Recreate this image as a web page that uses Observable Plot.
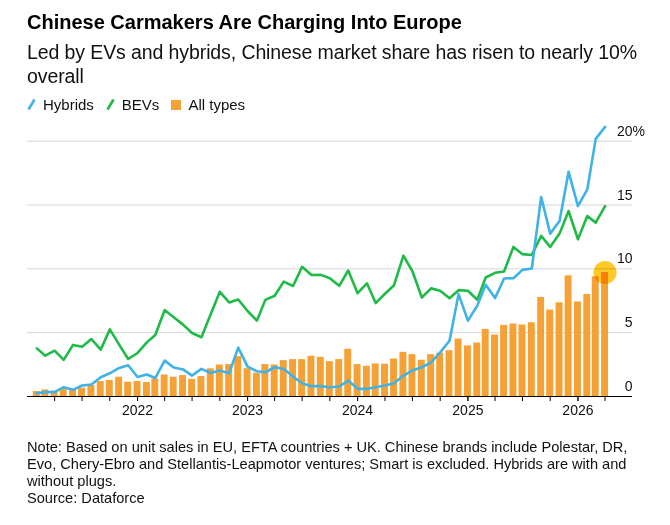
<!DOCTYPE html>
<html><head><meta charset="utf-8">
<script src="https://cdn.jsdelivr.net/npm/d3@7"></script>
<script src="https://cdn.jsdelivr.net/npm/@observablehq/plot@0.6"></script>
<style>
html,body{margin:0;padding:0;background:#fff;}
body{font-family:"Liberation Sans",Arial,sans-serif;color:#111;}
#wrap{width:670px;height:525px;position:relative;overflow:hidden;}
.title{position:absolute;left:27px;top:11px;font-weight:bold;font-size:20px;color:#000;letter-spacing:0px;white-space:nowrap;}
.subtitle{position:absolute;left:27px;top:40px;font-size:19.5px;line-height:24px;white-space:nowrap;letter-spacing:-0.1px;}
.legend{position:absolute;left:27px;top:96px;font-size:15px;display:flex;align-items:center;white-space:nowrap;}
.legend .item{display:flex;align-items:center;margin-right:12px;}
.legend svg{margin-right:7px;}
#chart{position:absolute;left:0;top:115px;}
.note{position:absolute;left:27px;top:439px;font-size:14.6px;line-height:17px;white-space:nowrap;letter-spacing:0px;}
</style>
</head><body>
<div id="wrap">
<div class="title">Chinese Carmakers Are Charging Into Europe</div>
<div class="subtitle">Led by EVs and hybrids, Chinese market share has risen to nearly 10%<br>overall</div>
<div class="legend">
<span class="item"><svg width="9" height="13"><line x1="1.5" y1="11.5" x2="7.5" y2="1.5" stroke="#3fb3e6" stroke-width="2.6"/></svg>Hybrids</span>
<span class="item"><svg width="9" height="13"><line x1="1.5" y1="11.5" x2="7.5" y2="1.5" stroke="#1fba47" stroke-width="2.6"/></svg>BEVs</span>
<span class="item"><svg width="10" height="10"><rect width="10" height="10" fill="#f6a135"/></svg>All types</span>
</div>
<div id="chart"></div>
<div class="note">Note: Based on unit sales in EU, EFTA countries + UK. Chinese brands include Polestar, DR,<br>Evo, Chery-Ebro and Stellantis-Leapmotor ventures; Smart is excluded. Hybrids are with and<br>without plugs.<br>Source: Dataforce</div>
</div>
<script>
// Monthly data, Feb 2021 – Apr 2026 (market share, %)
const bevs = [
  3.77, 3.2, 3.6, 2.87, 4.04, 3.9, 4.5, 3.67, 5.26, 4.06, 2.94,
  3.41, 4.24, 4.82, 6.77, 6.2, 5.63, 4.97, 4.64, 6.46, 8.2, 7.37, 7.6,
  6.7, 5.94, 7.57, 7.89, 9.0, 8.66, 10.16, 9.52, 9.53, 9.27, 8.67, 9.87,
  8.09, 8.87, 7.32, 8.05, 8.72, 11.03, 9.81, 7.76, 8.47, 8.28, 7.69, 8.33,
  8.28, 7.58, 9.32, 9.69, 9.79, 11.72, 11.15, 11.09, 12.58, 11.72, 12.76, 14.53,
  12.32, 14.14, 13.62, 14.92
];
const hybrids = [
  0.26, 0.34, 0.34, 0.73, 0.52, 0.86, 0.94, 1.51, 1.82, 2.24, 2.45,
  1.53, 1.72, 1.45, 2.81, 2.27, 2.12, 1.64, 2.16, 1.84, 2.03, 1.82, 3.83,
  2.34, 1.98, 1.9, 2.29, 2.16, 1.56, 1.04, 0.81, 0.81, 0.73, 0.78, 1.25,
  0.6, 0.6, 0.73, 0.86, 1.04, 1.64, 2.03, 2.29, 2.68, 3.46, 4.37, 8.02,
  5.94, 7.11, 8.75, 7.71, 9.24, 9.27, 9.92, 10.03, 15.63, 12.76, 13.75, 17.6,
  14.92, 16.22, 20.18, 21.12
];
const allTypes = [
  0.39, 0.52, 0.42, 0.6, 0.52, 0.65, 0.86, 1.17, 1.25, 1.51, 1.12,
  1.17, 1.1, 1.38, 1.69, 1.51, 1.64, 1.34, 1.56, 2.17, 2.47, 2.5, 3.13,
  2.18, 1.82, 2.5, 2.47, 2.81, 2.89, 2.89, 3.15, 3.07, 2.73, 2.89, 3.7,
  2.5, 2.37, 2.55, 2.53, 2.94, 3.46, 3.28, 2.84, 3.28, 3.39, 3.59, 4.5,
  3.96, 4.19, 5.26, 4.82, 5.57, 5.68, 5.6, 5.78, 7.76, 6.77, 7.34, 9.45,
  7.4, 7.99, 9.38, 9.71
];
const yTicks = [0, 5, 10, 15, 20];
const yearTicks = ["2022", "2023", "2024", "2025", "2026"];

const months = d3.utcMonth.range(new Date(Date.UTC(2021, 1, 1)), new Date(Date.UTC(2026, 4, 1)));
const data = months.map((date, i) => ({date, bev: bevs[i], hybrid: hybrids[i], all: allTypes[i]}));
const last = data[data.length - 1];
const halfBar = 11.5 * 864e5;
const quarterTicks = d3.utcMonth.every(3).range(new Date(Date.UTC(2021, 3, 1)), new Date(Date.UTC(2026, 4, 1)));

const BLUE = "#3fb3e6", GREEN = "#1fba47", ORANGE = "#f6a135";

const chart = Plot.plot({
  width: 670,
  height: 315,
  marginTop: 25.7,
  marginBottom: 34,
  marginLeft: 27,
  marginRight: 38,
  style: {fontFamily: "'Liberation Sans', Arial, sans-serif", fontSize: "14px", color: "#111", background: "transparent"},
  x: {type: "utc", axis: null, domain: [new Date(Date.UTC(2021, 0, 1)), new Date(Date.UTC(2026, 6, 1))]},
  y: {axis: null, domain: [0, 20]},
  marks: [
    Plot.ruleY(yTicks.filter(d => d > 0), {stroke: "#d6d6d6", strokeWidth: 1}),
    Plot.rectY(data, {x1: d => new Date(+d.date - halfBar), x2: d => new Date(+d.date + halfBar), y1: 0, y2: "all", fill: ORANGE}),
    Plot.ruleY([0], {stroke: "#000", strokeWidth: 1.2}),
    Plot.line(data, {x: "date", y: "bev", stroke: GREEN, strokeWidth: 2.6, strokeLinejoin: "round"}),
    Plot.line(data, {x: "date", y: "hybrid", stroke: BLUE, strokeWidth: 2.6, strokeLinejoin: "round"}),
    Plot.dot([last], {x: "date", y: "all", r: 11.5, fill: "#ffc414", fillOpacity: 0.92, mixBlendMode: "multiply"}),
    Plot.axisX(quarterTicks, {tickSize: 5, tickFormat: () => "", stroke: "#000"}),
    Plot.axisX(yearTicks.map(y => new Date(Date.UTC(+y, 0, 1))), {tickSize: 5, tickPadding: 4, tickFormat: d3.utcFormat("%Y"), fill: "#111", fontSize: 14}),
    Plot.text(yTicks, {y: d => d, text: d => String(d), frameAnchor: "right", textAnchor: "end", dy: -10, fontSize: 14, fill: "#111"}),
    Plot.text(yTicks.filter(d => d === 20), {y: d => d, text: () => "%", frameAnchor: "right", textAnchor: "start", dy: -10, fontSize: 14, fill: "#111"})
  ]
});
document.getElementById("chart").appendChild(chart);
</script>
</body></html>
